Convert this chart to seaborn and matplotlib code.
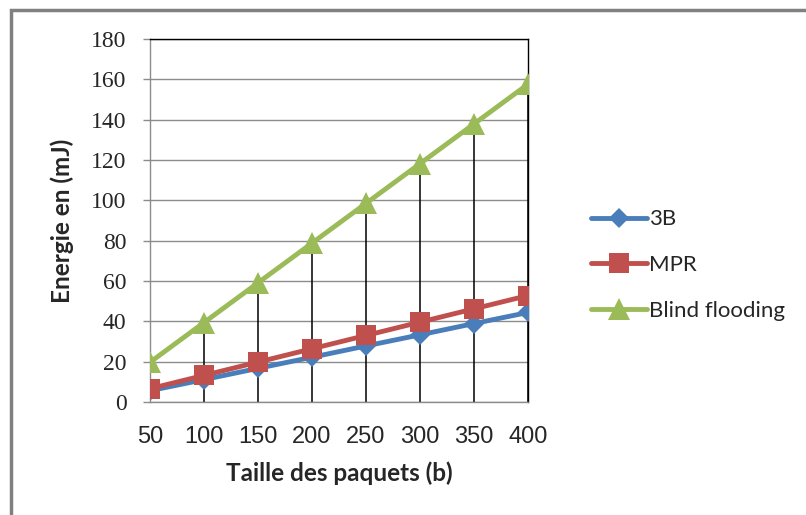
import matplotlib
matplotlib.use('Agg')
import matplotlib.pyplot as plt
from matplotlib.patches import Rectangle
import pandas as pd
import numpy as np
import seaborn as sns

# values
taille = [50, 100, 150, 200, 250, 300, 350, 400]
energie_3b = [5.6, 11.1, 16.7, 22.2, 27.8, 33.3, 38.9, 44.4]
energie_mpr = [6.6, 13.2, 19.8, 26.4, 33.0, 39.6, 46.2, 52.8]
energie_blind = [19.7, 39.4, 59.1, 78.8, 98.5, 118.2, 137.9, 157.6]
series = ['3B', 'MPR', 'Blind flooding']
y_ticks = [0, 20, 40, 60, 80, 100, 120, 140, 160, 180]

df = pd.DataFrame({'taille': taille * 3,
                   'energie': energie_3b + energie_mpr + energie_blind,
                   'methode': np.repeat(series, len(taille))})

colors = {'3B': '#4a7ebb', 'MPR': '#c0504d', 'Blind flooding': '#9bbb59'}
markers = {'3B': 'D', 'MPR': 's', 'Blind flooding': '^'}
msizes = {'3B': 10, 'MPR': 15, 'Blind flooding': 16}

sns.set_style('white')
plt.rcParams['font.family'] = ['Lato', 'DejaVu Sans']

fig = plt.figure(figsize=(8.06, 5.15), dpi=100)
ax = fig.add_axes([150 / 806, 1 - 402 / 515, 378 / 806, 363 / 515])

# drop lines from the highest series down to the axis
top = df.groupby('taille')['energie'].max()
ax.vlines(top.index, 0, top.values, colors='black', lw=1.1, zorder=1)

for m in series:
    sub = df[df['methode'] == m]
    sns.lineplot(data=sub, x='taille', y='energie', ax=ax, color=colors[m],
                 marker=markers[m], markersize=msizes[m], markeredgewidth=0,
                 lw=3.5, label=m, zorder=3)

ax.set_xlim(50, 400)
ax.set_ylim(0, 180)
ax.set_xticks(taille)
ax.set_yticks(y_ticks)
ax.grid(axis='y', color='#8c8c8c', lw=1)
ax.grid(axis='x', visible=False)

for s in ['top', 'right']:
    ax.spines[s].set_color('black')
    ax.spines[s].set_linewidth(1)
for s in ['left', 'bottom']:
    ax.spines[s].set_color('#8c8c8c')
    ax.spines[s].set_linewidth(1)

ax.tick_params(axis='y', length=5, color='#8c8c8c', width=1, pad=12, left=True)
ax.tick_params(axis='x', length=0, pad=17)
for t in ax.get_yticklabels():
    t.set_family('Liberation Serif')
    t.set_fontsize(17)
for t in ax.get_xticklabels():
    t.set_family('Liberation Sans')
    t.set_fontsize(17)

ax.set_xlabel('Taille des paquets (b)', fontsize=17.5, fontweight='bold', labelpad=10)
ax.set_ylabel('Energie en (mJ)', fontsize=17.5, fontweight='bold', labelpad=12)

ax.legend(loc='center left', bbox_to_anchor=(580 / 806, 1 - 265 / 515),
          bbox_transform=fig.transFigure, frameon=False, fontsize=16,
          handlelength=2.5, handletextpad=0.1, labelspacing=1.15,
          borderpad=0)

# outer chart frame (only top and left edges visible)
fig.add_artist(Rectangle((11 / 806, -0.1), 1.2, 1 - 10 / 515 + 0.1,
                         transform=fig.transFigure, fill=False,
                         edgecolor='#808080', lw=2.5))

fig.savefig('out.png', dpi=100)
